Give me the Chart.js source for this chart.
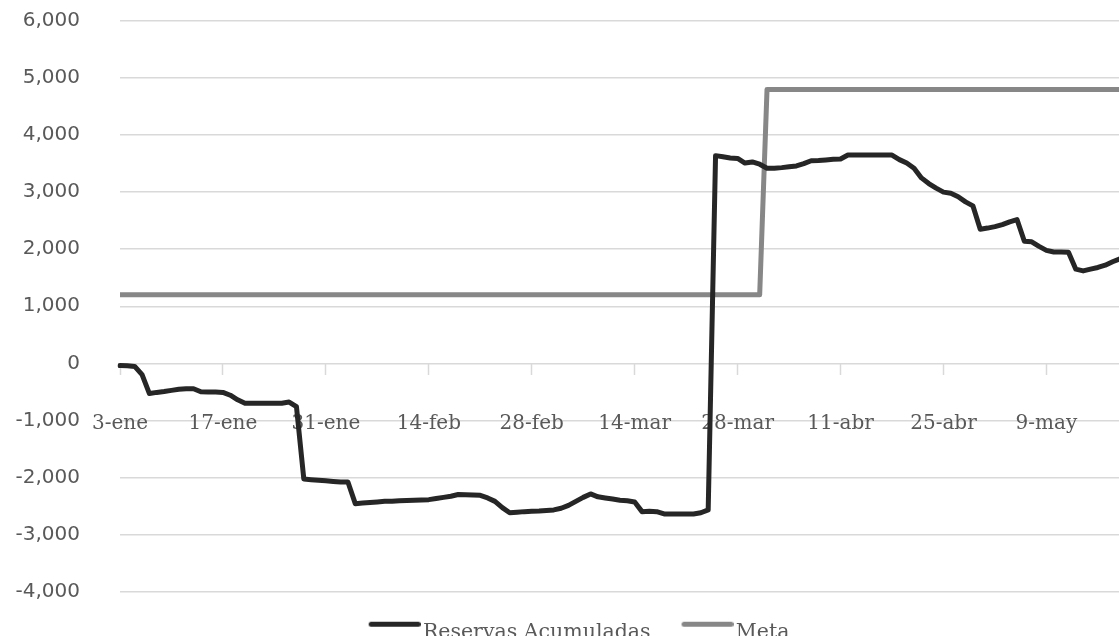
<!DOCTYPE html>
<html lang="es">
<head>
<meta charset="utf-8">
<title>Reservas acumuladas vs. meta</title>
<script src="https://cdn.jsdelivr.net/npm/chart.js@4/dist/chart.umd.min.js"></script>
<style>
  html, body { margin: 0; padding: 0; background: #ffffff; overflow: hidden; }
  #marco { position: relative; width: 1155px; height: 653px; }
</style>
</head>
<body>
<div id="marco"><canvas id="grafico"></canvas></div>
<script>
// Reservas acumuladas (millones), un valor por día, del 3 de enero en adelante
const reservasEne = [ // 3-ene .. 31-ene
  -40, -45, -55, -200, -530, -510, -495, -475, -455, -445,
  -445, -500, -505, -505, -510, -560, -640, -700, -700, -700,
  -700, -700, -700, -680, -760, -2030, -2040, -2050, -2060
];
const reservasFeb = [ // 1-feb .. 28-feb
  -2070, -2080, -2080, -2460, -2450, -2440, -2430, -2420, -2420, -2410,
  -2405, -2400, -2395, -2390, -2370, -2350, -2330, -2300, -2305, -2310,
  -2315, -2360, -2420, -2530, -2620, -2610, -2600, -2595
];
const reservasMar = [ // 1-mar .. 31-mar
  -2590, -2580, -2570, -2540, -2490, -2420, -2350, -2290, -2340, -2360,
  -2380, -2400, -2410, -2430, -2600, -2595, -2600, -2640, -2640, -2640,
  -2640, -2640, -2620, -2570, 3640, 3620, 3600, 3590, 3510, 3530,
  3490
];
const reservasAbr = [ // 1-abr .. 30-abr
  3420, 3420, 3430, 3445, 3460, 3500, 3550, 3555, 3565, 3575,
  3580, 3650, 3650, 3650, 3650, 3650, 3650, 3650, 3570, 3510,
  3420, 3250, 3150, 3070, 3000, 2980, 2920, 2830, 2760, 2350
];
const reservasMay = [ // 1-may .. 22-may
  2370, 2395, 2430, 2480, 2520, 2140, 2130, 2050, 1980, 1950,
  1950, 1945, 1650, 1620, 1650, 1680, 1720, 1780, 1830, 1870,
  1900, 1920
];

// Meta de acumulación vigente en cada día
const metaEne = [
  1200, 1200, 1200, 1200, 1200, 1200, 1200, 1200, 1200, 1200,
  1200, 1200, 1200, 1200, 1200, 1200, 1200, 1200, 1200, 1200,
  1200, 1200, 1200, 1200, 1200, 1200, 1200, 1200, 1200
];
const metaFeb = [
  1200, 1200, 1200, 1200, 1200, 1200, 1200, 1200, 1200, 1200,
  1200, 1200, 1200, 1200, 1200, 1200, 1200, 1200, 1200, 1200,
  1200, 1200, 1200, 1200, 1200, 1200, 1200, 1200
];
const metaMar = [
  1200, 1200, 1200, 1200, 1200, 1200, 1200, 1200, 1200, 1200,
  1200, 1200, 1200, 1200, 1200, 1200, 1200, 1200, 1200, 1200,
  1200, 1200, 1200, 1200, 1200, 1200, 1200, 1200, 1200, 1200,
  1200
];
const metaAbr = [
  4800, 4800, 4800, 4800, 4800, 4800, 4800, 4800, 4800, 4800,
  4800, 4800, 4800, 4800, 4800, 4800, 4800, 4800, 4800, 4800,
  4800, 4800, 4800, 4800, 4800, 4800, 4800, 4800, 4800, 4800
];
const metaMay = [
  4800, 4800, 4800, 4800, 4800, 4800, 4800, 4800, 4800, 4800,
  4800, 4800, 4800, 4800, 4800, 4800, 4800, 4800, 4800, 4800,
  4800, 4800
];

// Etiquetas del eje de fechas (cada 14 días) y del eje de valores
const etiquetasEje = ['3-ene', '17-ene', '31-ene', '14-feb', '28-feb', '14-mar',
                      '28-mar', '11-abr', '25-abr', '9-may'];
const valoresEje = [-4000, -3000, -2000, -1000, 0, 1000, 2000, 3000, 4000, 5000, 6000];
const mesesAbr = ['ene', 'feb', 'mar', 'abr', 'may', 'jun', 'jul', 'ago', 'sep', 'oct', 'nov', 'dic'];

const reservas = [].concat(reservasEne, reservasFeb, reservasMar, reservasAbr, reservasMay);
const meta = [].concat(metaEne, metaFeb, metaMar, metaAbr, metaMay);

// Una categoría por día, con formato d-mmm
const inicio = new Date(2023, 0, 3);
const fechas = reservas.map((_, i) => {
  const d = new Date(inicio.getFullYear(), inicio.getMonth(), inicio.getDate() + i);
  return d.getDate() + '-' + mesesAbr[d.getMonth()];
});

const NEGRO = '#262626';
const GRIS = '#878787';
const TEXTO = '#595959';
const REJILLA = '#d9d9d9';

// Trazo corto de leyenda, algo por encima del centro del texto
function trazoLeyenda(color) {
  const c = document.createElement('canvas');
  c.width = 60;
  c.height = 40;
  const g = c.getContext('2d');
  g.strokeStyle = color;
  g.lineWidth = 5;
  g.lineCap = 'round';
  g.beginPath();
  g.moveTo(10.5, 11.5);
  g.lineTo(57.5, 11.5);
  g.stroke();
  return c;
}
const iconos = [trazoLeyenda(NEGRO), trazoLeyenda(GRIS)];

const fmt = new Intl.NumberFormat('en-US');

new Chart(document.getElementById('grafico'), {
  type: 'line',
  data: {
    labels: fechas,
    datasets: [
      {
        label: 'Reservas Acumuladas',
        data: reservas,
        borderColor: NEGRO,
        backgroundColor: NEGRO,
        borderWidth: 5,
        pointRadius: 0,
        tension: 0,
        borderJoinStyle: 'round',
        borderCapStyle: 'round'
      },
      {
        label: 'Meta',
        data: meta,
        borderColor: GRIS,
        backgroundColor: GRIS,
        borderWidth: 5,
        pointRadius: 0,
        tension: 0,
        borderJoinStyle: 'round',
        borderCapStyle: 'butt'
      }
    ]
  },
  options: {
    responsive: true,
    maintainAspectRatio: false,
    animation: false,
    events: [],
    layout: { padding: { top: 21, right: 13, bottom: 0, left: 16 } },
    scales: {
      x: {
        type: 'category',
        position: { y: 0 },
        offset: false,
        afterFit: (scale) => {
          // el eje cruza en cero: no ocupa espacio propio
          scale.height = 0;
          scale.paddingTop = 0;
          scale.paddingBottom = 0;
          scale.paddingLeft = 0;
          scale.paddingRight = 0;
        },
        grid: {
          drawOnChartArea: false,
          drawTicks: true,
          tickLength: 12,
          tickWidth: 1.5,
          tickColor: (ctx) => etiquetasEje.includes(fechas[ctx.index]) ? REJILLA : 'rgba(0,0,0,0)'
        },
        border: { display: false },
        ticks: {
          autoSkip: false,
          maxRotation: 0,
          minRotation: 0,
          padding: 36,
          color: TEXTO,
          font: { family: 'DejaVu Serif', size: 20 },
          callback: (value, index) => etiquetasEje.includes(fechas[index]) ? fechas[index] : ''
        }
      },
      y: {
        min: valoresEje[0],
        max: valoresEje[valoresEje.length - 1],
        afterBuildTicks: (scale) => { scale.ticks = valoresEje.map(v => ({ value: v })); },
        afterFit: (scale) => {
          scale.width = 104;
          scale.paddingTop = 0;
          scale.paddingBottom = 0;
        },
        grid: { color: REJILLA, lineWidth: 1.5, drawTicks: false },
        border: { display: false },
        ticks: {
          padding: 40,
          color: TEXTO,
          font: { family: 'DejaVu Sans', size: 20 },
          callback: (v) => fmt.format(v)
        }
      }
    },
    plugins: {
      tooltip: { enabled: false },
      legend: {
        position: 'bottom',
        align: 'center',
        labels: {
          usePointStyle: true,
          pointStyleWidth: 44,
          boxHeight: 20,
          padding: 31,
          color: TEXTO,
          font: { family: 'DejaVu Serif', size: 20.5 },
          generateLabels: (chart) => {
            const items = Chart.defaults.plugins.legend.labels.generateLabels(chart);
            items.forEach((it, i) => { it.pointStyle = iconos[i]; });
            return items;
          }
        }
      }
    }
  }
});
</script>
</body>
</html>
